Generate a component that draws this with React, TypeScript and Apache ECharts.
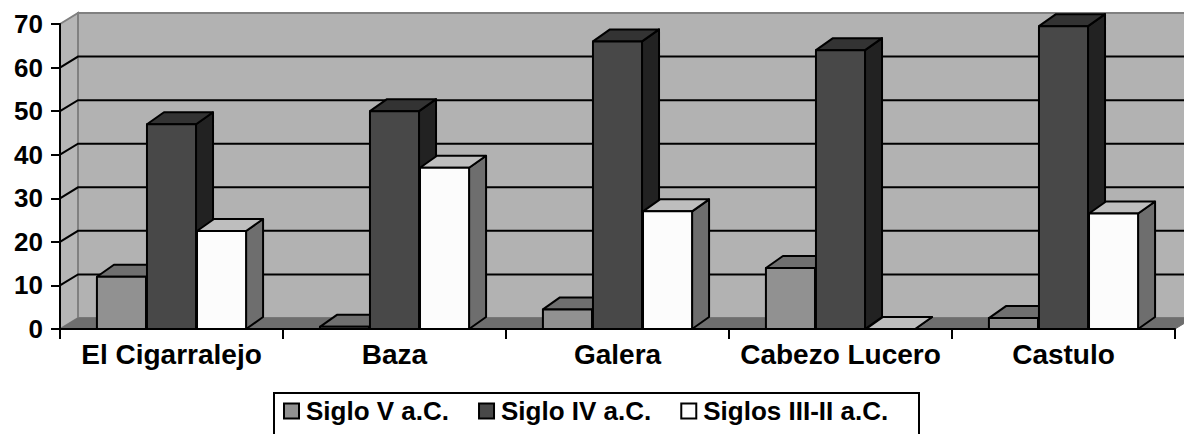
import React, { useEffect, useRef } from "react";
import * as echarts from "echarts";

const categories = ["El Cigarralejo", "Baza", "Galera", "Cabezo Lucero", "Castulo"];
const seriesNames = ["Siglo V a.C.", "Siglo IV a.C.", "Siglos III-II a.C."];
const sigloV = [12, 0.5, 4.5, 14, 2.5];
const sigloIV = [47, 50, 66, 64, 69.5];
const siglosIIIII = [22.5, 37, 27, 0, 26.5];
const gridValues = [10, 20, 30, 40, 50, 60];
const yMin = 0;
const yMax = 70;
const yInterval = 10;

const FONT = "Liberation Sans";
const WALL_DX = 18;
const WALL_DY = -11;
const BAR_DX = 17;
const BAR_DY = -12;

const palettes = [
  { front: "#919191", top: "#6f6f6f", side: "#6f6f6f" },
  { front: "#484848", top: "#333333", side: "#222222" },
  { front: "#fcfcfc", top: "#bebebe", side: "#6e6e6e" },
];

function barRenderer(sIdx: number) {
  return (params: any, api: any) => {
    const ci = api.value(0);
    const v = api.value(1);
    const base = api.coord([ci, 0]);
    const top = api.coord([ci, v]);
    const band = api.size([1, 0])[0];
    const w = band * 0.22;
    const center = base[0] + (sIdx - 1) * w * 1.02;
    const xl = center - w / 2;
    const xr = center + w / 2;
    const y0 = base[1];
    const yv = top[1];
    const p = palettes[sIdx];
    const stroke = { stroke: "#000", lineWidth: 2, lineJoin: "round" };
    return {
      type: "group",
      children: [
        {
          type: "polygon",
          shape: { points: [[xr, yv], [xr + BAR_DX, yv + BAR_DY], [xr + BAR_DX, y0 + BAR_DY], [xr, y0]] },
          style: { fill: p.side, ...stroke },
        },
        {
          type: "polygon",
          shape: { points: [[xl, yv], [xr, yv], [xr + BAR_DX, yv + BAR_DY], [xl + BAR_DX, yv + BAR_DY]] },
          style: { fill: p.top, ...stroke },
        },
        {
          type: "rect",
          shape: { x: xl, y: yv, width: w, height: y0 - yv },
          style: { fill: p.front, ...stroke },
        },
      ],
    };
  };
}

function wallRenderer(params: any, api: any) {
  const cs = params.coordSys;
  const x0 = cs.x;
  const x1 = cs.x + cs.width;
  const y0 = api.coord([0, yMin])[1];
  const yT = api.coord([0, yMax])[1];
  const children: any[] = [];
  children.push({
    type: "polygon",
    shape: { points: [[x0 + WALL_DX, yT + WALL_DY], [x1 + WALL_DX, yT + WALL_DY], [x1 + WALL_DX, y0 + WALL_DY], [x0 + WALL_DX, y0 + WALL_DY]] },
    style: { fill: "#b2b2b2", stroke: "#808080", lineWidth: 2 },
  });
  children.push({
    type: "polygon",
    shape: { points: [[x0, yT], [x0 + WALL_DX, yT + WALL_DY], [x0 + WALL_DX, y0 + WALL_DY], [x0, y0]] },
    style: { fill: "#b6b6b6", stroke: "#808080", lineWidth: 2 },
  });
  children.push({
    type: "polygon",
    shape: { points: [[x0, y0], [x1, y0], [x1 + WALL_DX, y0 + WALL_DY], [x0 + WALL_DX, y0 + WALL_DY]] },
    style: { fill: "#6e6e6e", stroke: "#6e6e6e", lineWidth: 1 },
  });
  gridValues.forEach((v) => {
    const y = api.coord([0, v])[1];
    children.push({
      type: "polyline",
      shape: { points: [[x0, y], [x0 + WALL_DX, y + WALL_DY], [x1 + WALL_DX, y + WALL_DY]] },
      style: { stroke: "#000", lineWidth: 2, fill: null },
    });
  });
  return { type: "group", children };
}

export default function App() {
  const ref = useRef<HTMLDivElement>(null);
  useEffect(() => {
    if (!ref.current) return;
    const chart = echarts.init(ref.current, null, { renderer: "svg" });
    const allSeries = [sigloV, sigloIV, siglosIIIII];
    chart.setOption({
      animation: false,
      backgroundColor: "#ffffff",
      grid: { left: 60, right: 9, top: 24, bottom: 105, containLabel: false },
      graphic: [
        {
          type: "rect",
          left: 273,
          top: 392,
          shape: { width: 645, height: 50 },
          style: { fill: "#fff", stroke: "#000", lineWidth: 2 },
          z: 0,
        },
      ],
      xAxis: {
        type: "category",
        data: categories,
        z: 10,
        axisLine: { show: true, lineStyle: { color: "#000", width: 2 } },
        axisTick: { show: true, length: 10, lineStyle: { color: "#000", width: 2 } },
        axisLabel: { interval: 0, color: "#000", fontFamily: FONT, fontWeight: "bold", fontSize: 28, margin: 11 },
        splitLine: { show: false },
      },
      yAxis: {
        type: "value",
        min: yMin,
        max: yMax,
        interval: yInterval,
        z: 10,
        axisLine: { show: true, lineStyle: { color: "#000", width: 2 } },
        axisTick: { show: true, length: 9, lineStyle: { color: "#000", width: 2 } },
        axisLabel: { color: "#000", fontFamily: FONT, fontWeight: "bold", fontSize: 26, margin: 17 },
        splitLine: { show: false },
      },
      legend: {
        data: seriesNames,
        left: 283,
        top: 398,
        padding: 0,
        z: 5,
        itemWidth: 15,
        itemHeight: 15,
        itemGap: 29,
        icon: "rect",
        itemStyle: { borderColor: "#000", borderWidth: 2 },
        textStyle: { color: "#000", fontFamily: FONT, fontWeight: "bold", fontSize: 26, padding: [0, 0, 0, 2] },
      },
      series: [
        {
          type: "custom",
          name: "walls",
          z: 1,
          silent: true,
          renderItem: wallRenderer,
          data: [[0, 0]],
          encode: { x: 0, y: 1 },
        },
        ...seriesNames.map((name, sIdx) => ({
          type: "custom",
          name,
          z: 3,
          itemStyle: { color: palettes[sIdx].front, borderColor: "#000", borderWidth: 2 },
          renderItem: barRenderer(sIdx),
          data: allSeries[sIdx].map((v, i) => [i, v]),
          encode: { x: 0, y: 1 },
        })),
      ],
    });
    return () => chart.dispose();
  }, []);
  return <div ref={ref} style={{ position: "fixed", left: 0, top: 0, width: 1184, height: 434 }} />;
}
